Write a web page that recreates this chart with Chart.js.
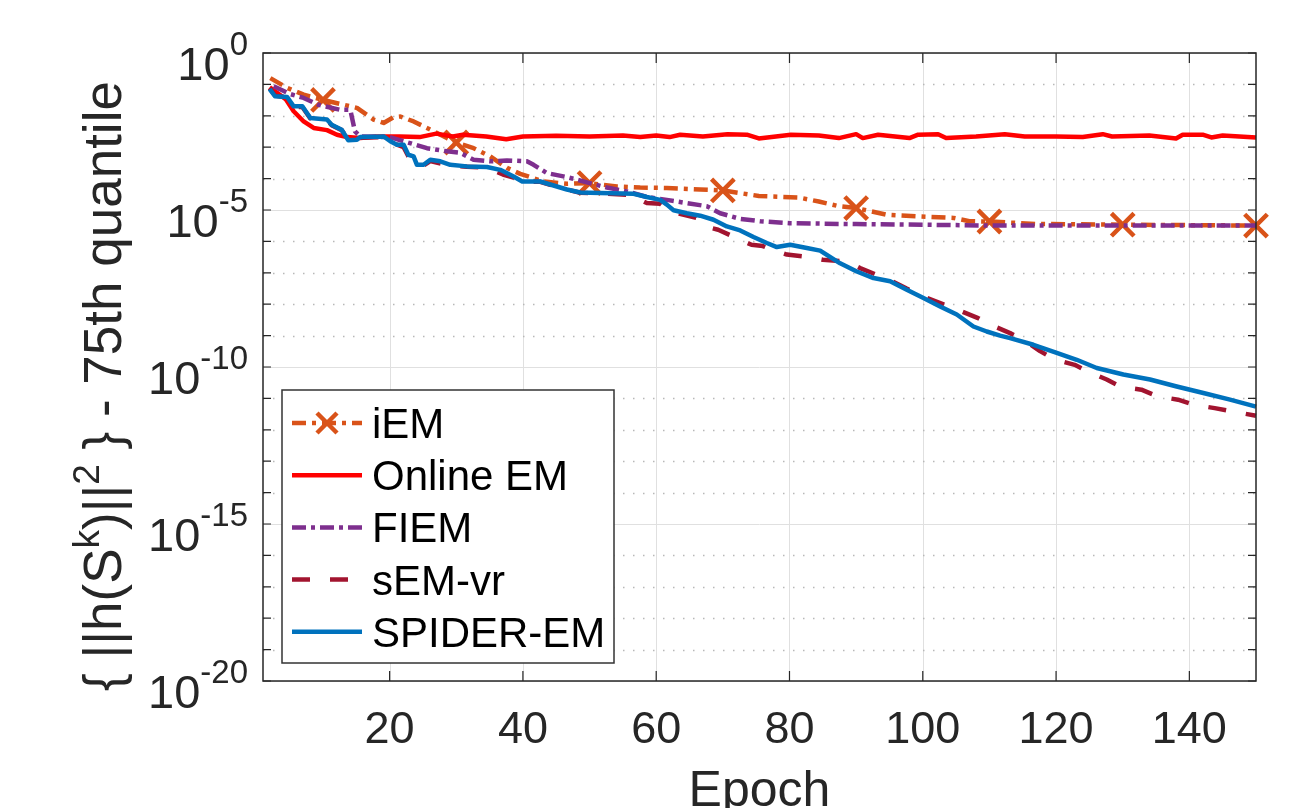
<!DOCTYPE html>
<html><head><meta charset="utf-8">
<script src="https://cdn.jsdelivr.net/npm/chart.js@4.4.1/dist/chart.umd.min.js"></script>
<style>html,body{margin:0;padding:0;background:#fff;overflow:hidden}</style>
</head><body>
<canvas id="c" width="1293" height="808"></canvas>
<script>
// ---- data: [epoch, value] pairs ----
const seriesNames = ['iEM', 'Online EM', 'FIEM', 'sEM-vr', 'SPIDER-EM'];
const iEM = [[2.1,1.58e-1],[4.6,7.8e-2],[7.1,4.7e-2],[10,3.2e-2],[13.1,2.24e-2],[15.1,1.78e-2],[17.6,7.6e-3],[19.1,5.9e-3],[20.6,9.1e-3],[21.6,9.5e-3],[23.6,6.6e-3],[25.6,4.1e-3],[28.6,1.95e-3],[30,1.41e-3],[32.6,9.3e-4],[35.1,5.1e-4],[37.6,2.2e-4],[39.6,1.41e-4],[43.1,8.1e-5],[46.6,6.8e-5],[50,7.2e-5],[54.1,5.6e-5],[57.6,5.2e-5],[61.6,5.0e-5],[66.6,4.5e-5],[70,4.2e-5],[75.4,2.8e-5],[81.4,2.5e-5],[84.4,1.86e-5],[87.4,1.32e-5],[90,1.15e-5],[94.5,7.1e-6],[99.3,6.3e-6],[104.6,5.6e-6],[107,4.4e-6],[110,4.3e-6],[117,3.6e-6],[130,3.4e-6],[150,3.2e-6]];
const iEMMarkerEpochs = [10,30,50,70,90,110,130,150];
const onlineEM = [[2,8.1e-2],[4.4,3.4e-2],[5.6,1.4e-2],[7.1,6.6e-3],[8.6,4.1e-3],[10.6,3.5e-3],[12.1,2.5e-3],[13.6,2.1e-3],[15.6,1.95e-3],[18,2.2e-3],[21.5,2.2e-3],[24.5,2.1e-3],[27,2.7e-3],[29.5,2.2e-3],[31,2.5e-3],[34.5,2.2e-3],[37.5,1.8e-3],[40,2.2e-3],[45,2.3e-3],[50,2.2e-3],[55,2.35e-3],[57.6,2.1e-3],[60,2.35e-3],[62,2.1e-3],[63.6,2.5e-3],[67,2.2e-3],[70.7,2.6e-3],[73.6,2.5e-3],[75.4,1.9e-3],[80.2,2.5e-3],[84.4,2.35e-3],[87.4,1.95e-3],[90,2.6e-3],[91,1.95e-3],[93.3,2.5e-3],[98,1.95e-3],[99.3,2.5e-3],[102.3,2.6e-3],[103.5,1.95e-3],[108,2.2e-3],[112.3,2.6e-3],[115.3,2.2e-3],[120,2.2e-3],[124,2.1e-3],[127,2.6e-3],[128.4,2.2e-3],[134,2.35e-3],[138,1.9e-3],[139,2.5e-3],[142,2.5e-3],[143.3,2.05e-3],[145,2.35e-3],[150,2.05e-3]];
const fiEM = [[2.6,8.7e-2],[5,5.0e-2],[7.1,3.7e-2],[9.3,2.24e-2],[12.6,1.55e-2],[14.1,1.55e-2],[14.8,3.2e-3],[15.6,2.2e-3],[20,2.1e-3],[22.1,1.55e-3],[25.6,9.3e-4],[28.6,7.4e-4],[30.6,6.6e-4],[32.6,4.0e-4],[35.1,3.55e-4],[37.6,3.8e-4],[40.6,3.55e-4],[41.6,2.75e-4],[43.6,1.5e-4],[46.6,1.12e-4],[49.6,7.6e-5],[52.6,5.2e-5],[55.6,3.9e-5],[58.6,2.6e-5],[61.6,2.1e-5],[64.6,1.66e-5],[67.6,1.32e-5],[69.6,7.9e-6],[72.6,5.2e-6],[75.6,4.4e-6],[80,3.8e-6],[90,3.55e-6],[100,3.4e-6],[110,3.2e-6],[120,3.2e-6],[135,3.2e-6],[150,3.2e-6]];
const sEMvr = [[2,7.6e-2],[2.8,4.4e-2],[4.6,3.8e-2],[5.6,1.9e-2],[6.9,1.9e-2],[8.1,8.3e-3],[10.6,7.2e-3],[11.3,5.0e-3],[12.8,3.5e-3],[13.8,1.74e-3],[15.6,2.0e-3],[19.1,2.1e-3],[20.1,1.45e-3],[22.1,1.0e-3],[22.8,5.2e-4],[24.1,2.6e-4],[25.1,2.6e-4],[26.1,3.6e-4],[29.1,2.6e-4],[31.6,2.4e-4],[34.6,2.2e-4],[37,1.35e-4],[38.6,1.07e-4],[39.9,7.9e-5],[42.6,7.9e-5],[45.1,5.4e-5],[48.6,3.55e-5],[51.6,3.4e-5],[56.6,3.0e-5],[57.6,2.1e-5],[58.6,1.66e-5],[60.6,1.58e-5],[62,9.1e-6],[64,7.1e-6],[66,5.6e-6],[67.6,2.9e-6],[69.3,2.35e-6],[72,1.29e-6],[74.3,7.8e-7],[76,7.1e-7],[77.3,5.5e-7],[79.6,3.8e-7],[82.8,3.2e-7],[85,2.6e-7],[88.6,2.3e-7],[90.6,1.41e-7],[93.6,7.8e-8],[95.4,5.4e-8],[97.5,3.2e-8],[99.6,2.0e-8],[100.6,1.58e-8],[103.3,9.5e-9],[105.3,6.6e-9],[108.3,3.6e-9],[110.1,2.24e-9],[113.1,1.2e-9],[115.1,7.4e-10],[117.6,3.2e-10],[119.9,1.7e-10],[122.8,1.17e-10],[124.8,7.2e-11],[127.6,4.0e-11],[129.8,2.3e-11],[132.8,1.9e-11],[135.3,1.15e-11],[138.3,9.1e-12],[140.6,6.3e-12],[143.8,4.9e-12],[146.3,3.9e-12],[150,2.8e-12]];
const spiderEM = [[2,7.1e-2],[2.8,4.2e-2],[4.6,4.0e-2],[5.6,2.0e-2],[6.9,2.0e-2],[8.1,8.5e-3],[10.6,7.6e-3],[11.3,5.2e-3],[12.8,3.6e-3],[13.8,1.66e-3],[15.1,1.74e-3],[15.6,2.1e-3],[19.1,2.2e-3],[20.1,1.55e-3],[21.1,1.2e-3],[22.1,1.2e-3],[22.8,5.75e-4],[23.6,5.1e-4],[24.1,2.75e-4],[25.1,2.75e-4],[26.1,4.0e-4],[27.6,3.55e-4],[29.1,2.75e-4],[31.6,2.45e-4],[34.6,2.35e-4],[36.6,1.9e-4],[38.6,1.17e-4],[39.9,8.1e-5],[42.6,8.1e-5],[45.1,5.6e-5],[46.6,4.5e-5],[48.6,3.6e-5],[51.6,3.5e-5],[56.6,3.3e-5],[58.6,2.6e-5],[60.6,2.1e-5],[61.6,1.48e-5],[62.6,9.8e-6],[64.6,7.9e-6],[66.6,6.6e-6],[68.6,4.9e-6],[70.6,3.0e-6],[72.6,2.24e-6],[74.6,1.38e-6],[76.6,8.9e-7],[78.1,6.6e-7],[80.1,7.8e-7],[82.6,6.2e-7],[84.6,5.1e-7],[87.6,2.0e-7],[90.1,1.1e-7],[92.6,6.8e-8],[95.1,5.4e-8],[97.6,2.9e-8],[100.1,1.58e-8],[102.6,8.5e-9],[105.1,4.7e-9],[107.6,1.95e-9],[109.6,1.35e-9],[111.6,1.0e-9],[113.1,8.3e-10],[116.6,5.1e-10],[120.1,2.8e-10],[123.1,1.7e-10],[126.1,9.3e-11],[130.1,5.75e-11],[134.1,4.0e-11],[138.1,2.4e-11],[142.1,1.48e-11],[146.1,9.1e-12],[150,5.5e-12]];
const xTicks = [20, 40, 60, 80, 100, 120, 140];
const yTickExponents = [0, -5, -10, -15, -20];
const xTitle = 'Epoch';
const yTitleParts = [['{ ||h(S', false], ['k', true], [')||', false], ['2', true], [' } - 75th quantile', false]];

// ---- styles ----
const FONT = '"Liberation Sans", Arial, Helvetica, sans-serif';
const AX = '#262626';
const styles = [
  {color: '#D95319', dash: [14, 6, 4, 6], order: 4},
  {color: '#FF0000', dash: [], order: 3},
  {color: '#7E2F8E', dash: [14, 5, 4, 5], order: 2},
  {color: '#A2142F', dash: [18, 20], order: 1},
  {color: '#0072BD', dash: [], order: 0}
];
const allSeries = [iEM, onlineEM, fiEM, sEMvr, spiderEM];

const datasets = allSeries.map((s, i) => ({
  label: seriesNames[i],
  data: s.map(p => ({x: p[0], y: p[1]})),
  borderColor: styles[i].color,
  backgroundColor: styles[i].color,
  borderWidth: 4.5,
  borderDash: styles[i].dash,
  borderCapStyle: 'butt',
  borderJoinStyle: 'round',
  tension: 0,
  fill: false,
  order: styles[i].order,
  clip: false,
  pointStyle: 'crossRot',
  pointBorderColor: styles[i].color,
  pointBorderWidth: 4.5,
  pointRadius: i === 0 ? (c => (c.raw && iEMMarkerEpochs.includes(c.raw.x)) ? 16 : 0) : 0,
  pointHoverRadius: 0
}));

function richWidth(ctx, parts, base, sup) {
  let w = 0;
  parts.forEach(([t, s]) => { ctx.font = (s ? sup : base) + 'px ' + FONT; w += ctx.measureText(t).width; });
  return w;
}
function drawRich(ctx, parts, x0, y0, base, sup, rise) {
  let x = x0;
  parts.forEach(([t, s]) => {
    ctx.font = (s ? sup : base) + 'px ' + FONT;
    ctx.fillText(t, x, s ? y0 - rise : y0);
    x += ctx.measureText(t).width;
  });
}

const matlabAxes = {
  id: 'matlabAxes',
  beforeDatasetsDraw(chart) {
    const {ctx, chartArea: a, scales: {x, y}} = chart;
    ctx.save();
    ctx.lineWidth = 1;
    ctx.strokeStyle = '#e0e0e0';
    xTicks.forEach(v => {
      const px = Math.round(x.getPixelForValue(v)) + 0.5;
      ctx.beginPath(); ctx.moveTo(px, a.top); ctx.lineTo(px, a.bottom); ctx.stroke();
    });
    for (let e = 0; e >= -20; e--) {
      const py = Math.round(y.getPixelForValue(Math.pow(10, e))) + 0.5;
      if (e % 5 === 0) {
        ctx.setLineDash([]); ctx.strokeStyle = '#e0e0e0'; ctx.lineWidth = 1;
      } else {
        ctx.setLineDash([1.5, 8.5]); ctx.strokeStyle = '#b8b8b8'; ctx.lineWidth = 1.5;
      }
      ctx.beginPath(); ctx.moveTo(a.left, py); ctx.lineTo(a.right, py); ctx.stroke();
    }
    ctx.restore();
  },
  afterDatasetsDraw(chart) {
    const {ctx, chartArea: a, scales: {x, y}} = chart;
    ctx.save();
    ctx.setLineDash([]);
    ctx.strokeStyle = AX; ctx.lineWidth = 1.5;
    ctx.strokeRect(a.left, a.top, a.right - a.left, a.bottom - a.top);
    ctx.lineWidth = 1.2;
    xTicks.forEach(v => {
      const px = x.getPixelForValue(v);
      ctx.beginPath();
      ctx.moveTo(px, a.bottom); ctx.lineTo(px, a.bottom - 10);
      ctx.moveTo(px, a.top); ctx.lineTo(px, a.top + 10);
      ctx.stroke();
    });
    for (let e = 0; e >= -20; e--) {
      const py = y.getPixelForValue(Math.pow(10, e));
      ctx.beginPath();
      ctx.moveTo(a.left, py); ctx.lineTo(a.left + 8, py);
      ctx.moveTo(a.right, py); ctx.lineTo(a.right - 8, py);
      ctx.stroke();
    }
    ctx.fillStyle = AX;
    ctx.font = '45px ' + FONT;
    ctx.textAlign = 'center'; ctx.textBaseline = 'alphabetic';
    xTicks.forEach(v => ctx.fillText(String(v), x.getPixelForValue(v), 743));
    ctx.textAlign = 'left';
    yTickExponents.forEach(e => {
      const py = y.getPixelForValue(Math.pow(10, e));
      ctx.font = '33px ' + FONT;
      const expTxt = String(e);
      const we = ctx.measureText(expTxt).width;
      const expStart = 248 - we;
      ctx.fillText(expTxt, expStart, py + 2);
      ctx.font = '47px ' + FONT;
      const wb = ctx.measureText('10').width;
      ctx.fillText('10', expStart - wb, py + 27);
    });
    ctx.textAlign = 'center';
    ctx.font = '50px ' + FONT;
    ctx.fillText(xTitle, (a.left + a.right) / 2, 806);
    ctx.save();
    ctx.translate(121, 386);
    ctx.rotate(-Math.PI / 2);
    ctx.textAlign = 'left';
    const tw = richWidth(ctx, yTitleParts, 53, 37);
    drawRich(ctx, yTitleParts, -tw / 2, 0, 53, 37, 22);
    ctx.restore();
    // legend
    const L = {l: 282, t: 390, r: 614, b: 663};
    ctx.fillStyle = '#fff';
    ctx.fillRect(L.l, L.t, L.r - L.l, L.b - L.t);
    ctx.strokeStyle = '#333'; ctx.lineWidth = 1.5;
    ctx.strokeRect(L.l, L.t, L.r - L.l, L.b - L.t);
    chart.data.datasets.forEach((ds, i) => {
      const cy = 423 + i * 52.2;
      ctx.strokeStyle = ds.borderColor; ctx.lineWidth = 4.5;
      ctx.setLineDash(ds.borderDash); ctx.lineCap = 'butt';
      ctx.beginPath(); ctx.moveTo(292, cy); ctx.lineTo(362, cy); ctx.stroke();
      ctx.setLineDash([]);
      if (i === 0) {
        const r = 10;
        ctx.beginPath();
        ctx.moveTo(327 - r, cy - r); ctx.lineTo(327 + r, cy + r);
        ctx.moveTo(327 - r, cy + r); ctx.lineTo(327 + r, cy - r);
        ctx.stroke();
      }
      ctx.fillStyle = '#000';
      ctx.font = '42px ' + FONT;
      ctx.textAlign = 'left';
      ctx.fillText(ds.label, 372, cy + 15);
    });
    ctx.restore();
  }
};

new Chart(document.getElementById('c'), {
  type: 'line',
  data: {datasets},
  options: {
    responsive: false,
    animation: false,
    devicePixelRatio: 1,
    events: [],
    layout: {padding: {left: 0, top: 53, right: 37, bottom: 0}},
    plugins: {legend: {display: false}, tooltip: {enabled: false}},
    scales: {
      x: {
        type: 'linear', min: 1, max: 150,
        ticks: {display: false}, grid: {display: false}, border: {display: false},
        afterFit: s => { s.height = 127; }
      },
      y: {
        type: 'logarithmic', min: 1e-20, max: 1,
        ticks: {display: false}, grid: {display: false}, border: {display: false},
        afterFit: s => { s.width = 263; }
      }
    }
  },
  plugins: [matlabAxes]
});
</script>
</body></html>
